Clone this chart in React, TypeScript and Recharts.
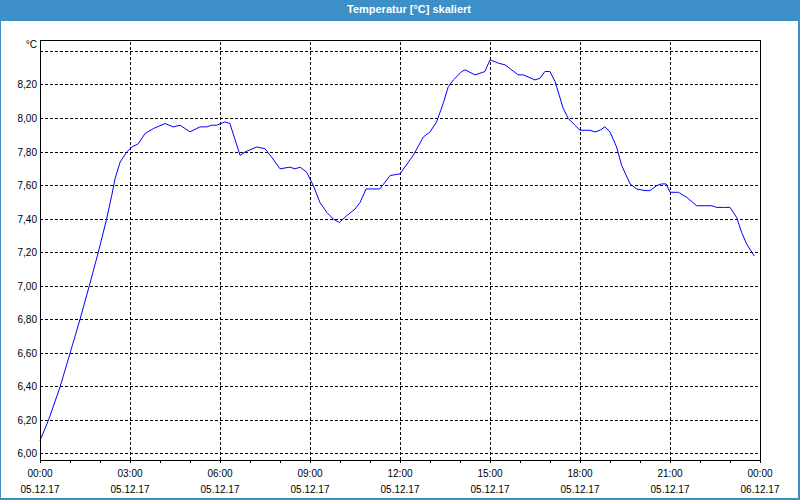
import React from 'react';
import { LineChart, Line, XAxis, YAxis, CartesianGrid, ReferenceLine } from 'recharts';

// time of day in hours (05.12.17 00:00 = 0) and temperature in °C
const hours = [
  0, 0.28, 0.67, 1.0, 1.33, 1.64, 1.94, 2.22, 2.39, 2.5, 2.67, 2.89, 3.06, 3.28, 3.5, 3.78,
  4.17, 4.44, 4.67, 5.0, 5.33, 5.56, 5.72, 5.89, 6.17, 6.33, 6.67, 6.83, 7.22, 7.5, 7.72,
  8.0, 8.33, 8.5, 8.67, 8.89, 9.11, 9.33, 9.56, 9.78, 9.98, 10.22, 10.5, 10.67, 10.87,
  11.33, 11.67, 12.0, 12.44, 12.78, 13.0, 13.22, 13.44, 13.61, 13.78, 14.06, 14.17, 14.5,
  14.83, 15.0, 15.28, 15.5, 15.94, 16.11, 16.5, 16.67, 16.83, 17.0, 17.17, 17.44, 17.61,
  17.83, 18.0, 18.33, 18.5, 18.67, 18.83, 19.0, 19.22, 19.39, 19.67, 19.89, 20.17, 20.33,
  20.56, 20.72, 20.87, 21.0, 21.28, 21.56, 21.89, 22.39, 22.56, 22.78, 23.0, 23.22, 23.39,
  23.56, 23.81,
];
const temps = [
  6.08, 6.2, 6.4, 6.6, 6.8, 7.0, 7.2, 7.4, 7.54, 7.64, 7.74, 7.8, 7.83, 7.85, 7.91, 7.94,
  7.97, 7.95, 7.96, 7.92, 7.95, 7.95, 7.96, 7.96, 7.98, 7.97, 7.78, 7.8, 7.83, 7.82, 7.77,
  7.7, 7.71, 7.7, 7.71, 7.68, 7.6, 7.5, 7.44, 7.4, 7.38, 7.42, 7.46, 7.5, 7.58,
  7.58, 7.66, 7.67, 7.78, 7.89, 7.92, 7.98, 8.09, 8.19, 8.23, 8.28, 8.29, 8.26,
  8.28, 8.35, 8.33, 8.32, 8.26, 8.26, 8.23, 8.24, 8.28, 8.28, 8.22, 8.06, 8.0,
  7.96, 7.93, 7.93, 7.92, 7.93, 7.95, 7.92, 7.83, 7.72, 7.61, 7.58, 7.57, 7.57,
  7.6, 7.61, 7.61, 7.56, 7.56, 7.53, 7.48, 7.48, 7.47, 7.47, 7.47, 7.41, 7.32,
  7.25, 7.18,
];

const yTicks = [6.0, 6.2, 6.4, 6.6, 6.8, 7.0, 7.2, 7.4, 7.6, 7.8, 8.0, 8.2, 8.4];
const unitTick = 8.4;
const xTicks = [0, 1, 2, 3, 4, 5, 6, 7, 8, 9, 10, 11, 12, 13, 14, 15, 16, 17, 18, 19, 20, 21, 22, 23, 24];
const labelHours = [0, 3, 6, 9, 12, 15, 18, 21, 24];
const timeLabels = ['00:00', '03:00', '06:00', '09:00', '12:00', '15:00', '18:00', '21:00', '00:00'];
const dateLabels = ['05.12.17', '05.12.17', '05.12.17', '05.12.17', '05.12.17', '05.12.17', '05.12.17', '05.12.17', '06.12.17'];
const gridHours = [3, 6, 9, 12, 15, 18, 21];

const data = hours.map((h, i) => ({ h, t: temps[i] }));

const FONT = "Tahoma, 'Liberation Sans', Arial, sans-serif";
const BLUE = '#3c8fc7';
const DASH = '3 2';

const XTick = (props: any) => {
  const { x, y, payload } = props;
  const i = labelHours.indexOf(payload.value);
  if (i < 0) return <g />;
  return (
    <g fontFamily={FONT} fontSize={10} fill="#000">
      <text x={x} y={y + 14} textAnchor="middle">{timeLabels[i]}</text>
      <text x={x} y={y + 29.5} textAnchor="middle">{dateLabels[i]}</text>
    </g>
  );
};

const YTick = (props: any) => {
  const { x, y, payload } = props;
  if (payload.value === unitTick) {
    return (
      <text x={x} y={y - 7} dy="0.35em" textAnchor="end" fontFamily={FONT} fontSize={10} fill="#000">°C</text>
    );
  }
  return (
    <text x={x} y={y} dy="0.35em" textAnchor="end" fontFamily={FONT} fontSize={10} fill="#000">
      {payload.value.toFixed(2).replace('.', ',')}
    </text>
  );
};

export default function App() {
  return (
    <div style={{ position: 'fixed', left: 0, top: 0, width: 800, height: 500, background: '#fff', overflow: 'hidden' }}>
      <div
        style={{
          position: 'absolute', left: 0, top: 0, width: 800, height: 21, background: BLUE,
          color: '#fff', fontFamily: FONT, fontWeight: 'bold', fontSize: 11, lineHeight: '18px',
          textAlign: 'center', paddingLeft: 18, boxSizing: 'border-box',
        }}
      >
        Temperatur [°C] skaliert
      </div>
      <div style={{ position: 'absolute', left: 0, top: 0 }}>
        <LineChart width={800} height={500} data={data} margin={{ top: 39, right: 39, bottom: 0, left: 0 }}>
          <CartesianGrid
            vertical={false}
            syncWithTicks
            stroke="#000"
            strokeDasharray={DASH}
            shapeRendering="crispEdges"
          />
          {gridHours.map((h) => (
            <ReferenceLine key={h} x={h} stroke="#000" strokeDasharray={DASH} shapeRendering="crispEdges" />
          ))}
          <XAxis
            dataKey="h"
            type="number"
            domain={[0, 24]}
            ticks={xTicks}
            interval={0}
            height={40}
            tickSize={3}
            tickMargin={0}
            axisLine={{ stroke: '#000', shapeRendering: 'crispEdges' }}
            tickLine={{ stroke: '#000', shapeRendering: 'crispEdges' }}
            tick={<XTick />}
          />
          <XAxis
            xAxisId="top"
            orientation="top"
            dataKey="h"
            type="number"
            domain={[0, 24]}
            height={1}
            tick={false}
            tickLine={false}
            axisLine={{ stroke: '#000', shapeRendering: 'crispEdges' }}
          />
          <YAxis
            type="number"
            domain={[5.964, 8.468]}
            ticks={yTicks}
            interval={0}
            width={40}
            tickSize={3}
            tickMargin={0}
            tickLine={false}
            axisLine={{ stroke: '#000', shapeRendering: 'crispEdges' }}
            tick={<YTick />}
          />
          <YAxis
            yAxisId="right"
            orientation="right"
            type="number"
            domain={[5.964, 8.468]}
            width={1}
            tick={false}
            tickLine={false}
            axisLine={{ stroke: '#000', shapeRendering: 'crispEdges' }}
          />
          <Line
            type="linear"
            dataKey="t"
            stroke="#0000ff"
            strokeWidth={1}
            dot={false}
            activeDot={false}
            isAnimationActive={false}
          />
        </LineChart>
      </div>
      <div
        style={{
          position: 'absolute', left: 0, top: 0, width: 800, height: 500, boxSizing: 'border-box',
          borderLeft: `1px solid ${BLUE}`, borderRight: `2px solid ${BLUE}`, borderBottom: `2px solid ${BLUE}`,
          pointerEvents: 'none',
        }}
      />
    </div>
  );
}
